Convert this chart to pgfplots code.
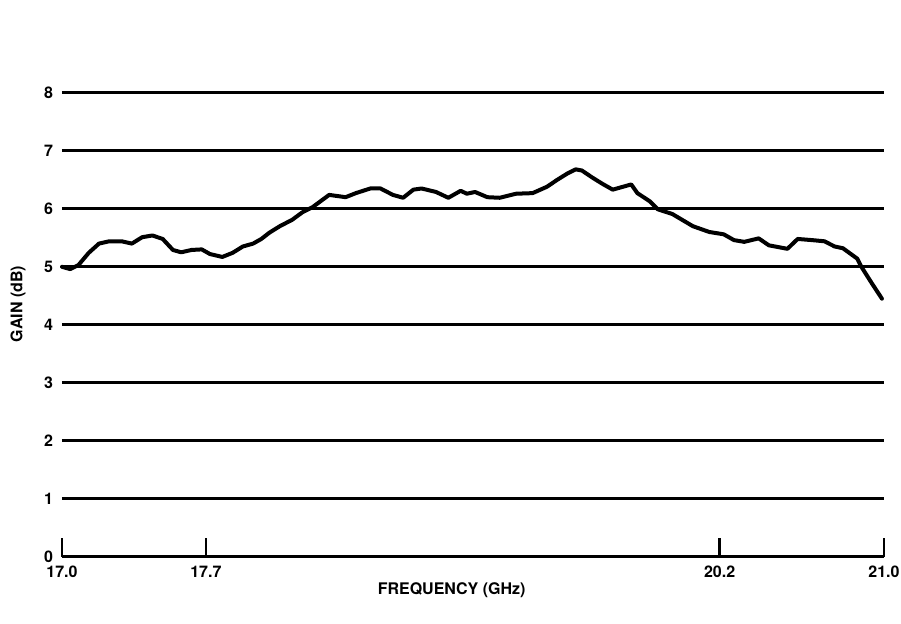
\documentclass[border=0pt]{standalone}
\usepackage{fontspec}
\setmainfont{TeX Gyre Heros}
\usepackage{pgfplots}
\pgfplotsset{compat=1.18}

\pgfplotstableread{
f      g
17.00  5.00
17.04  4.96
17.08  5.03
17.13  5.24
17.18  5.40
17.23  5.44
17.29  5.44
17.34  5.40
17.39  5.51
17.44  5.54
17.49  5.48
17.54  5.29
17.58  5.25
17.63  5.29
17.68  5.30
17.72  5.22
17.78  5.17
17.83  5.24
17.88  5.35
17.93  5.40
17.97  5.48
18.01  5.59
18.06  5.70
18.12  5.81
18.17  5.94
18.22  6.03
18.30  6.24
18.38  6.20
18.43  6.27
18.50  6.35
18.55  6.35
18.61  6.24
18.66  6.19
18.71  6.33
18.75  6.35
18.82  6.29
18.88  6.19
18.94  6.31
18.97  6.26
19.01  6.29
19.07  6.20
19.13  6.19
19.21  6.26
19.29  6.27
19.36  6.38
19.41  6.50
19.46  6.61
19.50  6.68
19.53  6.66
19.58  6.54
19.63  6.43
19.68  6.33
19.71  6.36
19.77  6.42
19.80  6.27
19.86  6.13
19.90  5.99
19.97  5.91
20.07  5.70
20.15  5.60
20.22  5.56
20.27  5.46
20.32  5.43
20.39  5.49
20.44  5.37
20.53  5.31
20.58  5.48
20.65  5.46
20.71  5.44
20.76  5.35
20.80  5.32
20.87  5.14
20.89  5.00
20.94  4.72
20.99  4.45
}\gaindata

\begin{document}
\begin{tikzpicture}
  % page frame, same proportions as the original scan
  \path[use as bounding box] (-31pt,-33.5pt) rectangle (419.5pt,278.4pt);
  \begin{axis}[
    scale only axis,
    width=411pt,
    height=278.4pt,
    xmin=17, xmax=21,
    ymin=0, ymax=9.6,
    axis x line=bottom,
    axis y line=left,
    axis line style={-, black, line width=1.3pt},
    y axis line style={draw=none},
    xtick={17,17.7,20.2,21},
    xticklabels={17.0,17.7,20.2,21.0},
    ytick={0,1,...,8},
    yticklabels={0,1,2,3,4,5,6,7,8},
    tick align=inside,
    major tick length=9.5pt,
    xtick style={black, line width=1.3pt},
    ytick style={draw=none},
    ymajorgrids=true,
    grid style={black, line width=1.3pt},
    ticklabel style={font=\fontsize{8}{9}\selectfont\bfseries},
    xticklabel style={yshift=-1pt},
    yticklabel style={xshift=-1pt},
    label style={font=\fontsize{8}{9}\selectfont\bfseries},
    xlabel={FREQUENCY (GHz)},
    ylabel={GAIN (dB)},
    xlabel style={at={(axis description cs:0.474,-0.0593)}, anchor=center},
    ylabel style={at={(axis description cs:-0.0535,0.454)}, anchor=center},
    clip=false,
  ]
    \addplot[black, line width=2pt, line join=round, line cap=round]
      table[x=f, y=g] {\gaindata};
  \end{axis}
\end{tikzpicture}
\end{document}
